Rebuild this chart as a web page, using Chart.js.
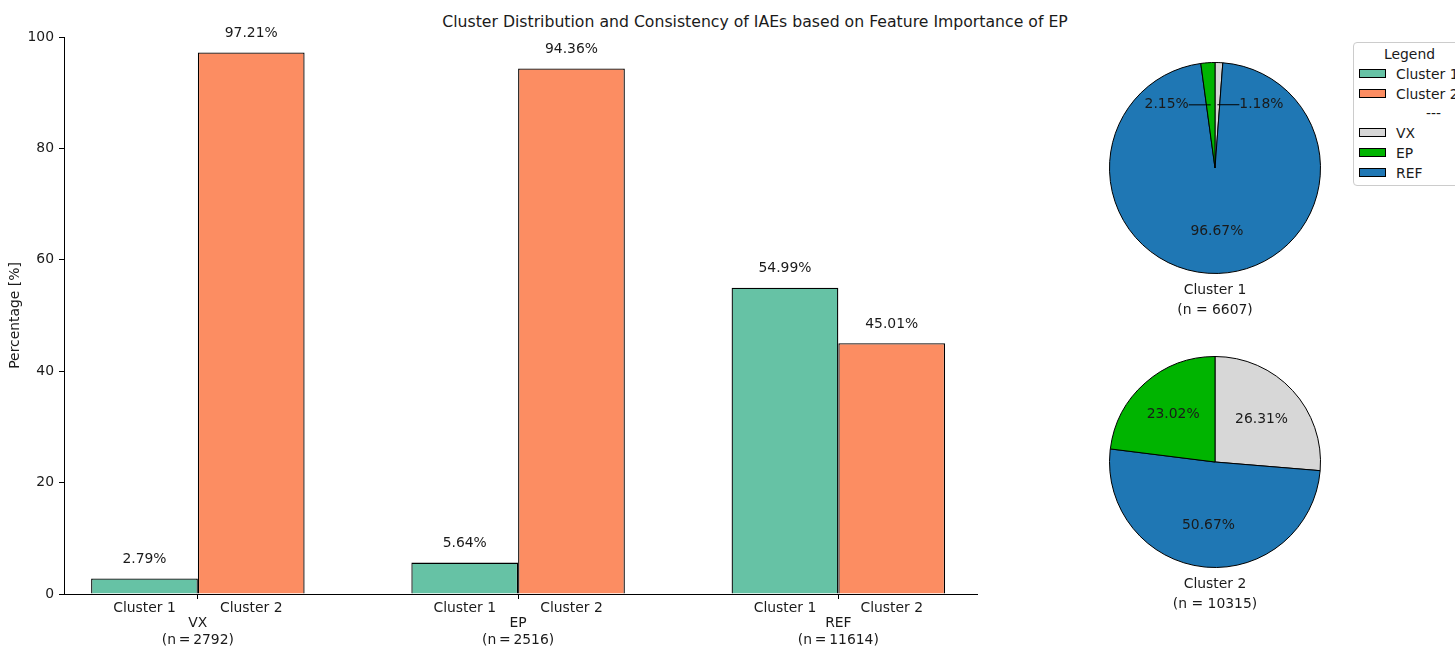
<!DOCTYPE html>
<html>
<head>
<meta charset="utf-8">
<title>Cluster Distribution and Consistency of IAEs</title>
<script src="https://cdn.jsdelivr.net/npm/chart.js@4.4.1/dist/chart.umd.min.js"></script>
<style>
  html, body { margin: 0; padding: 0; background: #fff; }
  body { width: 1455px; height: 648px; position: relative; overflow: hidden;
         font-family: 'DejaVu Sans', sans-serif; color: #1a1a1a; }
  canvas { position: absolute; }
  #title { position: absolute; left: 755px; top: 13px; transform: translateX(-50%);
           font-size: 15.7px; line-height: 18px; white-space: nowrap; }
  #legend { position: absolute; left: 1353px; top: 42px; width: 118px; height: 142px;
            border: 1px solid #cccccc; border-radius: 4px; background: rgba(255,255,255,0.8);
            font-size: 13.9px; z-index: 2; }
  #legend .row { position: absolute; left: 0; height: 18px; line-height: 18px; white-space: nowrap; }
  #legend .sw { position: absolute; left: 5px; top: 4px; width: 25px; height: 7px; border: 1px solid #000; }
  #legend .lbl { position: absolute; left: 42px; top: 0; }
</style>
</head>
<body>
<div id="title">Cluster Distribution and Consistency of IAEs based on Feature Importance of EP</div>
<canvas id="bars" width="1000" height="648" style="left:0;top:0"></canvas>
<canvas id="pie1" width="250" height="300" style="left:1090px;top:18px"></canvas>
<canvas id="pie2" width="250" height="300" style="left:1090px;top:312px"></canvas>
<div id="legend"></div>
<script>
// ---- data ----
const groups = ['VX', 'EP', 'REF'];
const groupSizes = [2792, 2516, 11614];
const clusterNames = ['Cluster 1', 'Cluster 2'];
const cluster1Share = [2.79, 5.64, 54.99];
const cluster2Share = [97.21, 94.36, 45.01];

const sources = ['VX', 'EP', 'REF'];
const cluster1Composition = [1.18, 2.15, 96.67];
const cluster2Composition = [26.31, 23.02, 50.67];
const clusterSizes = [6607, 10315];
const yTicks = [0, 20, 40, 60, 80, 100];

// ---- styling ----
const FONT = 'DejaVu Sans';
const TEXT = '#1a1a1a';
const clusterColors = ['#66c2a5', '#fc8d62'];
const sourceColors = { VX: '#d7d7d7', EP: '#00b400', REF: '#1f77b4' };
const pieOrder = ['VX', 'REF', 'EP'];   // clockwise from 12 o'clock

Chart.defaults.font.family = FONT;
Chart.defaults.font.size = 13.9;
Chart.defaults.color = TEXT;

const thin = '\u2009';

// value labels above bars and cluster names under each bar
const barText = {
  id: 'barText',
  afterDatasetsDraw(chart) {
    const ctx = chart.ctx;
    const xs = chart.scales.x;
    ctx.save();
    ctx.font = `13.9px ${FONT}`;
    ctx.fillStyle = TEXT;
    ctx.textAlign = 'center';
    ctx.textBaseline = 'middle';
    chart.data.datasets.forEach((ds, di) => {
      chart.getDatasetMeta(di).data.forEach((el, i) => {
        ctx.fillText(ds.data[i].y.toFixed(2) + '%', el.x, el.y - 19);
        ctx.fillText(ds.label, el.x, xs.top + 14);
      });
    });
    ctx.restore();
  }
};

new Chart(document.getElementById('bars'), {
  type: 'bar',
  data: {
    datasets: [
      { label: clusterNames[0], data: groups.map((g, i) => ({ x: i, y: cluster1Share[i] })),
        backgroundColor: clusterColors[0], borderColor: '#000', borderWidth: 1.3 },
      { label: clusterNames[1], data: groups.map((g, i) => ({ x: i, y: cluster2Share[i] })),
        backgroundColor: clusterColors[1], borderColor: '#000', borderWidth: 1.3 }
    ]
  },
  options: {
    responsive: false,
    devicePixelRatio: 1,
    animation: false,
    events: [],
    categoryPercentage: 2 / 3,
    barPercentage: 1,
    layout: { padding: { top: 37, right: 23, left: 0, bottom: 0 } },
    plugins: { legend: { display: false }, tooltip: { enabled: false } },
    scales: {
      x: {
        type: 'linear',
        min: -0.418, max: 2.433,
        offset: false,
        grid: { display: true, drawOnChartArea: false, drawTicks: true, tickLength: 5, color: '#000', offset: false },
        border: { display: true, color: '#000', width: 1 },
        afterBuildTicks(scale) { scale.ticks = groups.map((g, i) => ({ value: i })); },
        afterFit(scale) { scale.height = 54; },
        ticks: {
          autoSkip: false, maxRotation: 0, padding: 16,
          callback: (v) => [groups[v], `(n${thin}=${thin}${groupSizes[v]})`]
        }
      },
      y: {
        min: 0, max: 100,
        grid: { display: true, drawOnChartArea: false, drawTicks: true, tickLength: 5, color: '#000' },
        border: { display: true, color: '#000', width: 1 },
        afterBuildTicks(scale) { scale.ticks = yTicks.map(v => ({ value: v })); },
        afterFit(scale) { scale.width = 64; },
        ticks: { padding: 5 },
        title: { display: true, text: 'Percentage [%]', padding: { top: 7, bottom: 0 }, font: { size: 13.9 } }
      }
    }
  },
  plugins: [barText]
});

// percentage labels inside wedges, with leader lines for thin wedges, and caption below
const pieText = {
  id: 'pieText',
  afterDatasetsDraw(chart, args, opts) {
    const ctx = chart.ctx;
    const meta = chart.getDatasetMeta(0);
    const values = chart.data.datasets[0].data;
    ctx.save();
    ctx.font = `13.9px ${FONT}`;
    ctx.fillStyle = TEXT;
    ctx.strokeStyle = '#000';
    ctx.lineWidth = 1;
    ctx.textBaseline = 'middle';
    let cx = 0, cy = 0, r = 0;
    meta.data.forEach((arc, i) => {
      cx = arc.x; cy = arc.y; r = arc.outerRadius;
      const mid = (arc.startAngle + arc.endAngle) / 2;
      const px = cx + Math.cos(mid) * r * 0.6;
      const py = cy + Math.sin(mid) * r * 0.6;
      const txt = values[i].toFixed(2) + '%';
      if (values[i] < 3) {
        const left = Math.cos(mid) < 0;
        const tx = left ? px - 22 : px + 22;
        ctx.beginPath();
        ctx.moveTo(px, py);
        ctx.lineTo(tx, py);
        ctx.stroke();
        ctx.textAlign = left ? 'right' : 'left';
        ctx.fillText(txt, tx, py);
      } else {
        ctx.textAlign = 'center';
        ctx.fillText(txt, px, py);
      }
    });
    ctx.textAlign = 'center';
    ctx.fillText(opts.caption[0], cx, cy + r + 16.5);
    ctx.fillText(opts.caption[1], cx, cy + r + 37);
    ctx.restore();
  }
};

function drawPie(id, composition, clusterIdx) {
  const vals = pieOrder.map(s => composition[sources.indexOf(s)]);
  new Chart(document.getElementById(id), {
    type: 'pie',
    data: {
      labels: pieOrder,
      datasets: [{
        data: vals,
        backgroundColor: pieOrder.map(s => sourceColors[s]),
        borderColor: '#000',
        borderWidth: 1,
        borderAlign: 'center'
      }]
    },
    options: {
      responsive: false,
      devicePixelRatio: 1,
      animation: false,
      events: [],
      radius: 105.5,
      rotation: 0,
      layout: { padding: 0 },
      plugins: {
        legend: { display: false },
        tooltip: { enabled: false },
        pieText: { caption: [clusterNames[clusterIdx], `(n = ${clusterSizes[clusterIdx]})`] }
      }
    },
    plugins: [pieText]
  });
}
drawPie('pie1', cluster1Composition, 0);
drawPie('pie2', cluster2Composition, 1);

// shared legend: clusters, separator, sources
const legendEntries = [
  { label: clusterNames[0], color: clusterColors[0] },
  { label: clusterNames[1], color: clusterColors[1] },
  { label: '---', color: null },
  ...sources.map(s => ({ label: s, color: sourceColors[s] }))
];
const legend = document.getElementById('legend');
const head = document.createElement('div');
head.className = 'row';
head.style.top = '2px';
head.style.left = '30px';
head.textContent = 'Legend';
legend.appendChild(head);
legendEntries.forEach((e, i) => {
  const row = document.createElement('div');
  row.className = 'row';
  row.style.top = (22 + i * 19.7) + 'px';
  if (e.color) {
    const sw = document.createElement('div');
    sw.className = 'sw';
    sw.style.background = e.color;
    row.appendChild(sw);
  }
  const lbl = document.createElement('span');
  lbl.className = 'lbl';
  if (!e.color) lbl.style.left = '72px';
  lbl.textContent = e.label;
  row.appendChild(lbl);
  legend.appendChild(row);
});
</script>
</body>
</html>
